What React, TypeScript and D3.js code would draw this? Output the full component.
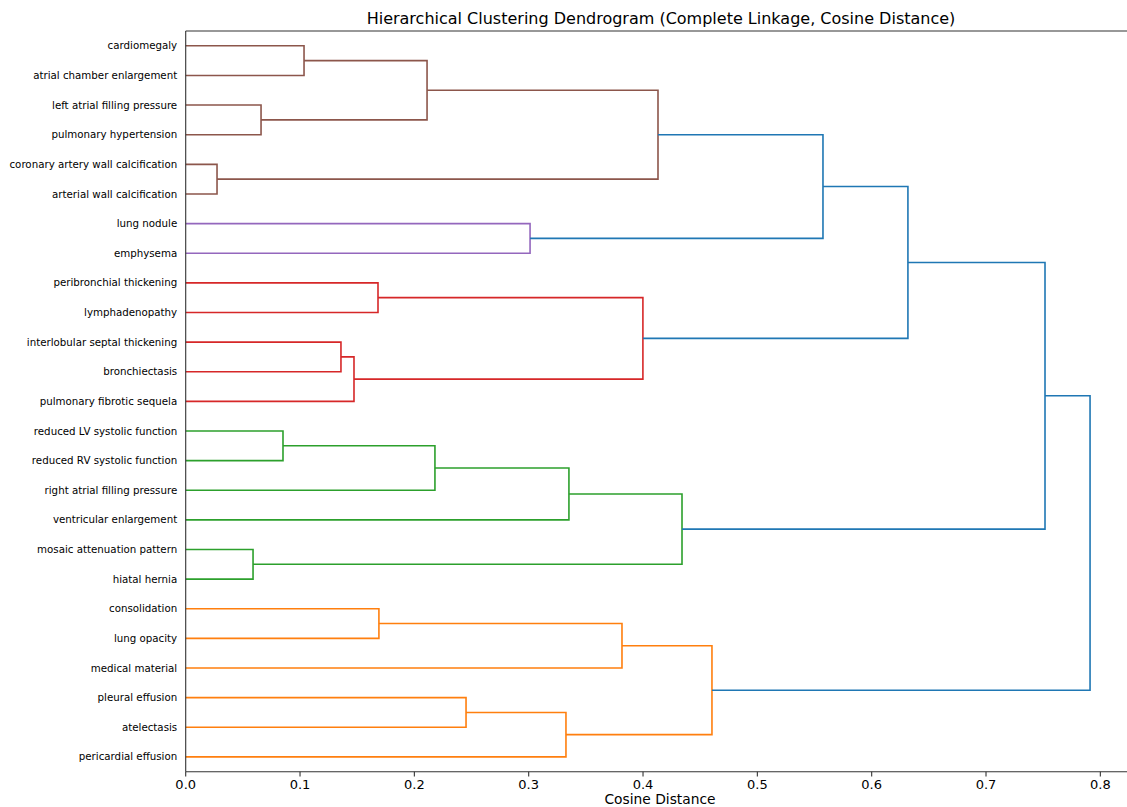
import React from "react";
import * as d3 from "d3";

const leaves = [
  "cardiomegaly",
  "atrial chamber enlargement",
  "left atrial filling pressure",
  "pulmonary hypertension",
  "coronary artery wall calcification",
  "arterial wall calcification",
  "lung nodule",
  "emphysema",
  "peribronchial thickening",
  "lymphadenopathy",
  "interlobular septal thickening",
  "bronchiectasis",
  "pulmonary fibrotic sequela",
  "reduced LV systolic function",
  "reduced RV systolic function",
  "right atrial filling pressure",
  "ventricular enlargement",
  "mosaic attenuation pattern",
  "hiatal hernia",
  "consolidation",
  "lung opacity",
  "medical material",
  "pleural effusion",
  "atelectasis",
  "pericardial effusion",
];

// merges: [childA, childB, distance, colorKey]; cluster ids: leaves 0..24, merges 25..
const merges: [number, number, number, string][] = [
  [0, 1, 0.1035, "brown"],
  [2, 3, 0.0659, "brown"],
  [25, 26, 0.2111, "brown"],
  [4, 5, 0.0274, "brown"],
  [27, 28, 0.4131, "brown"],
  [6, 7, 0.3012, "purple"],
  [29, 30, 0.5574, "blue"],
  [8, 9, 0.1682, "red"],
  [10, 11, 0.1358, "red"],
  [33, 12, 0.1472, "red"],
  [32, 34, 0.3999, "red"],
  [31, 35, 0.6317, "blue"],
  [13, 14, 0.0851, "green"],
  [37, 15, 0.218, "green"],
  [38, 16, 0.3352, "green"],
  [17, 18, 0.0589, "green"],
  [39, 40, 0.4341, "green"],
  [36, 41, 0.7516, "blue"],
  [19, 20, 0.169, "orange"],
  [43, 21, 0.3816, "orange"],
  [22, 23, 0.2452, "orange"],
  [45, 24, 0.3326, "orange"],
  [44, 46, 0.4603, "orange"],
  [42, 47, 0.791, "blue"],
];

const xTicks = [0, 0.1, 0.2, 0.3, 0.4, 0.5, 0.6, 0.7, 0.8];

const colors: Record<string, string> = {
  brown: "#8c564b",
  purple: "#9467bd",
  red: "#d62728",
  green: "#2ca02c",
  orange: "#ff7f0e",
  blue: "#1f77b4",
};

const W = 1127;
const H = 807;
const left = 185.7;
const top = 31;
const bottom = 771.7;
const xMax = 0.825;
const pxPerUnit = 1143.3;

export default function App() {
  const x = d3.scaleLinear().domain([0, xMax]).range([left, left + xMax * pxPerUnit]);
  const y = d3.scaleLinear().domain([0, leaves.length * 10]).range([top, bottom]);

  const pos: { y: number; d: number }[] = leaves.map((_, i) => ({ y: y(5 + 10 * i), d: 0 }));
  const links: { path: string; color: string }[] = [];
  merges.forEach(([a, b, dist, c]) => {
    const A = pos[a];
    const B = pos[b];
    const p = d3.path();
    p.moveTo(x(A.d), A.y);
    p.lineTo(x(dist), A.y);
    p.lineTo(x(dist), B.y);
    p.lineTo(x(B.d), B.y);
    links.push({ path: p.toString(), color: colors[c] });
    pos.push({ y: (A.y + B.y) / 2, d: dist });
  });

  const font = "DejaVu Sans, sans-serif";
  const rightEdge = left + xMax * pxPerUnit;

  return (
    <svg
      width={W}
      height={H}
      style={{ position: "absolute", left: 0, top: 0, background: "#fff" }}
      fontFamily={font}
    >
      <rect x={0} y={0} width={W} height={H} fill="#fff" />
      <text x={661} y={23.5} textAnchor="middle" fontSize={16} fill="#000">
        Hierarchical Clustering Dendrogram (Complete Linkage, Cosine Distance)
      </text>
      {links.map((l, i) => (
        <path key={i} d={l.path} fill="none" stroke={l.color} strokeWidth={1.6} />
      ))}
      {/* spines */}
      <line x1={left} x2={left} y1={top} y2={bottom} stroke="#333" strokeWidth={1.1} />
      <line x1={left} x2={rightEdge} y1={top} y2={top} stroke="#333" strokeWidth={1.1} />
      <line x1={left} x2={rightEdge} y1={bottom} y2={bottom} stroke="#333" strokeWidth={1.1} />
      {leaves.map((name, i) => (
        <text
          key={name}
          x={left - 8.5}
          y={y(5 + 10 * i)}
          dy="0.35em"
          textAnchor="end"
          fontSize={10.25}
          fill="#000"
        >
          {name}
        </text>
      ))}
      {xTicks.map((t) => (
        <g key={t} transform={`translate(${x(t)},${bottom})`}>
          <line y1={0} y2={4.9} stroke="#333" strokeWidth={1.1} />
          <text y={17.5} textAnchor="middle" fontSize={13} fill="#000">
            {t.toFixed(1)}
          </text>
        </g>
      ))}
      <text x={660} y={804} textAnchor="middle" fontSize={13.8} fill="#000">
        Cosine Distance
      </text>
    </svg>
  );
}
